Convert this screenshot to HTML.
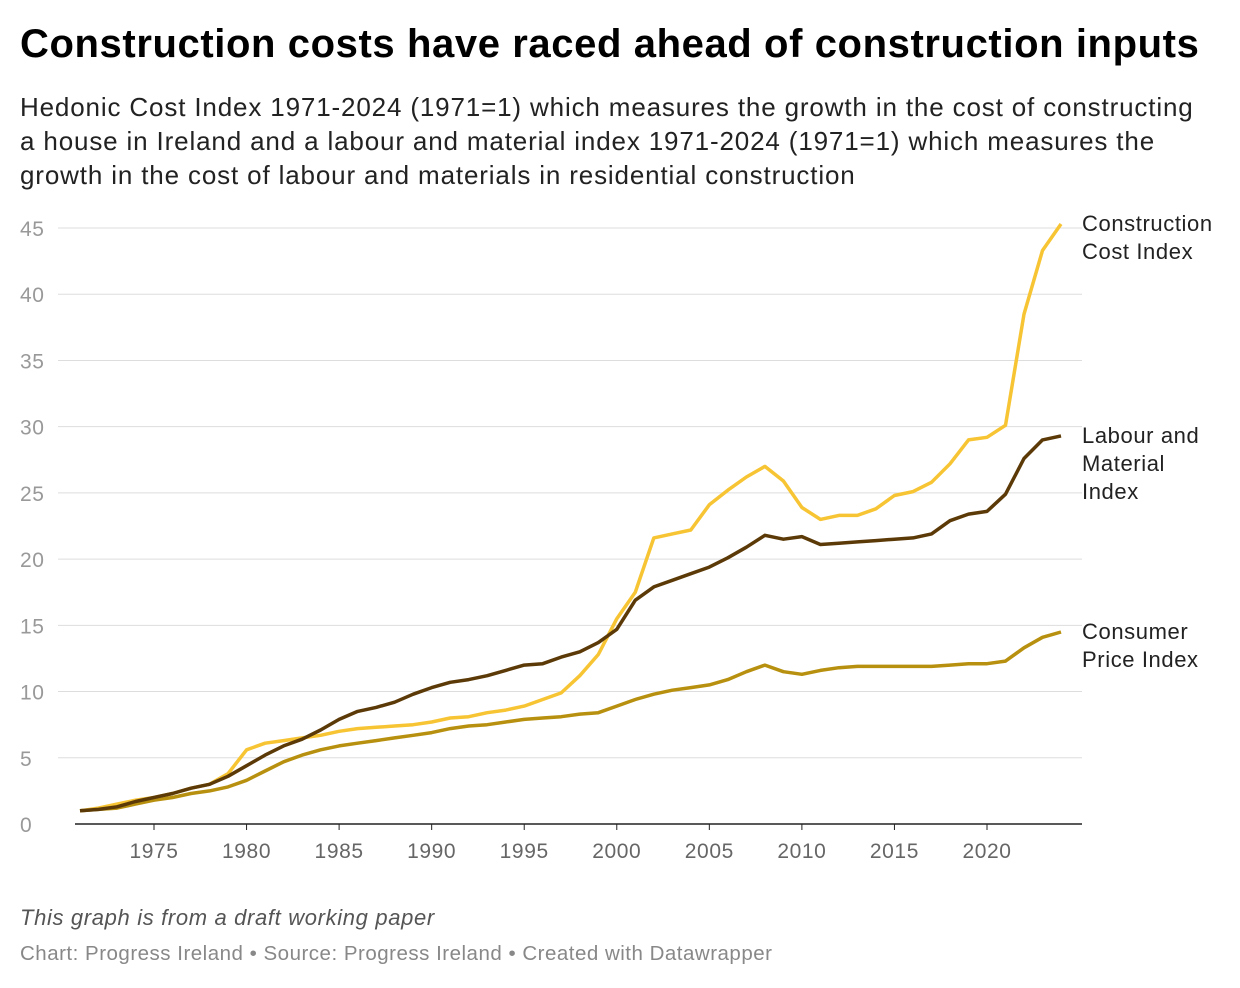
<!DOCTYPE html>
<html><head><meta charset="utf-8"><style>
body{margin:0;background:#fff;width:1240px;height:988px;overflow:hidden;font-family:"Liberation Sans",sans-serif}
#title{position:absolute;left:20px;top:22px;font-size:40px;font-weight:bold;color:#000;letter-spacing:0.6px;white-space:nowrap}
#sub{position:absolute;left:20px;top:90px;width:1190px;font-size:26px;line-height:34px;color:#222;letter-spacing:0.85px}
#note{position:absolute;left:20px;top:905px;font-size:22px;font-style:italic;color:#555;letter-spacing:0.65px}
#src{position:absolute;left:20px;top:942px;font-size:20.5px;color:#888;letter-spacing:0.5px}
svg{position:absolute;left:0;top:0}
svg text{letter-spacing:0.6px}
</style></head><body>
<div id="title">Construction costs have raced ahead of construction inputs</div>
<div id="sub">Hedonic Cost Index 1971-2024 (1971=1) which measures the growth in the cost of constructing a house in Ireland and a labour and material index 1971-2024 (1971=1) which measures the growth in the cost of labour and materials in residential construction</div>
<svg id="chart" width="1240" height="988"></svg>
<div id="note">This graph is from a draft working paper</div>
<div id="src">Chart: Progress Ireland • Source: Progress Ireland • Created with Datawrapper</div>
<script>
const years=[];for(let y=1971;y<=2024;y++)years.push(y);
const yTicks=[0,5,10,15,20,25,30,35,40,45];
const xTicks=[1975,1980,1985,1990,1995,2000,2005,2010,2015,2020];
const costIndex=[1.0,1.2,1.5,1.8,2.0,2.3,2.7,3.0,3.8,5.6,6.1,6.3,6.5,6.7,7.0,7.2,7.3,7.4,7.5,7.7,8.0,8.1,8.4,8.6,8.9,9.4,9.9,11.2,12.8,15.5,17.5,21.6,21.9,22.2,24.1,25.2,26.2,27.0,25.9,23.9,23.0,23.3,23.3,23.8,24.8,25.1,25.8,27.2,29.0,29.2,30.1,38.5,43.3,45.3];
const labourIndex=[1.0,1.1,1.3,1.7,2.0,2.3,2.7,3.0,3.6,4.4,5.2,5.9,6.4,7.1,7.9,8.5,8.8,9.2,9.8,10.3,10.7,10.9,11.2,11.6,12.0,12.1,12.6,13.0,13.7,14.7,16.9,17.9,18.4,18.9,19.4,20.1,20.9,21.8,21.5,21.7,21.1,21.2,21.3,21.4,21.5,21.6,21.9,22.9,23.4,23.6,24.9,27.6,29.0,29.3];
const cpiIndex=[1.0,1.1,1.2,1.5,1.8,2.0,2.3,2.5,2.8,3.3,4.0,4.7,5.2,5.6,5.9,6.1,6.3,6.5,6.7,6.9,7.2,7.4,7.5,7.7,7.9,8.0,8.1,8.3,8.4,8.9,9.4,9.8,10.1,10.3,10.5,10.9,11.5,12.0,11.5,11.3,11.6,11.8,11.9,11.9,11.9,11.9,11.9,12.0,12.1,12.1,12.3,13.3,14.1,14.5];
const seriesNames=[["Construction","Cost Index"],["Labour and","Material","Index"],["Consumer","Price Index"]];
const NS="http://www.w3.org/2000/svg",svg=document.getElementById('chart');
const X=v=>154+(v-1975)*(987-154)/45, Y=v=>824-v*(824-228)/45;
function mk(t,a){const e=document.createElementNS(NS,t);for(const k in a)e.setAttribute(k,a[k]);svg.appendChild(e);return e;}
yTicks.forEach(t=>{
 if(t>0){const g=mk('line',{x1:58,x2:1082,y1:Y(t),y2:Y(t),stroke:'#ddd','stroke-width':1});
 
 }
 const l=mk('text',{x:20,y:Y(t)+8,'font-size':21,fill:'#999'});l.textContent=t;
 
 
});
const ax=mk('line',{x1:75,x2:1082,y1:824,y2:824,stroke:'#222','stroke-width':1.5});


xTicks.forEach(t=>{
 const tk=mk('line',{x1:X(t),x2:X(t),y1:824,y2:830,stroke:'#222'});
 
 
 const l=mk('text',{x:X(t),y:858,'font-size':21,fill:'#666','text-anchor':'middle'});l.textContent=t;
 
 
});
const series=[[cpiIndex,'#b8900f','cpi-line'],[costIndex,'#f7c434','construction-cost-line'],[labourIndex,'#5c3a08','labour-material-line']];
series.forEach(([d,c,n])=>{
 const p=mk('path',{d:d.map((v,i)=>(i?'L':'M')+X(years[i]).toFixed(1)+','+Y(v).toFixed(1)).join(''),fill:'none',stroke:c,'stroke-width':3.5,'stroke-linejoin':'round'});
 
 
});
const lastVals=[costIndex[costIndex.length-1],labourIndex[labourIndex.length-1],cpiIndex[cpiIndex.length-1]];
seriesNames.forEach((lines,i)=>{
 const y0=Y(lastVals[i])+7;
 lines.forEach((s,j)=>{const t=mk('text',{x:1082,y:y0+j*28,'font-size':22,fill:'#222'});t.textContent=s;
 
 });
});
</script>
</body></html>
